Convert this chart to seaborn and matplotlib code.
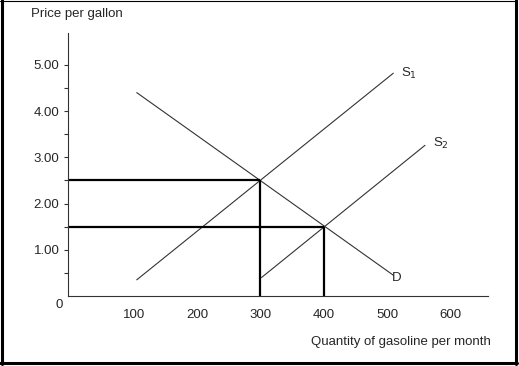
import numpy as np
import matplotlib
matplotlib.use("Agg")
import matplotlib.pyplot as plt
import seaborn as sns

# curve endpoints
demand_q = [105, 510]
demand_p = [4.40, 0.45]
supply1_q = [105, 510]
supply1_p = [0.35, 4.82]
supply2_q = [302, 560]
supply2_p = [0.40, 3.26]

# equilibria (old S1 and new S2)
eq_q = [300, 400]
eq_p = [2.50, 1.50]

y_major = [1, 2, 3, 4, 5]
y_minor = [0.5, 1.5, 2.5, 3.5, 4.5]
x_ticks = [100, 200, 300, 400, 500, 600]

sns.set_style("white")
plt.rcParams['font.family'] = ['Liberation Sans', 'DejaVu Sans']
fs = 9.5

W, H = 519, 366
fig = plt.figure(figsize=(W / 100, H / 100), dpi=100)
ax = fig.add_axes([67.7 / W, (H - 296) / H, 420 / W, 263 / H])

thin = dict(color="#333333", linewidth=0.8)
sns.lineplot(x=demand_q, y=demand_p, ax=ax, **thin)
sns.lineplot(x=supply1_q, y=supply1_p, ax=ax, **thin)
sns.lineplot(x=supply2_q, y=supply2_p, ax=ax, **thin)

x0 = -4
ax.hlines(eq_p, x0, eq_q, color="black", linewidth=1.6)
ax.vlines(eq_q, 0, eq_p, color="black", linewidth=1.6)

ax.set_xlim(x0, 659)
ax.set_ylim(0, 5.69)

ax.set_yticks(y_major)
ax.set_yticklabels([f"{v:.2f}" for v in y_major])
ax.set_yticks(y_minor, minor=True)
ax.tick_params(axis="y", which="both", direction="out", length=3, width=0.8,
               color="#333333", labelsize=fs, pad=3, left=True)
ax.set_xticks(x_ticks)
ax.set_xticklabels([str(v) for v in x_ticks])
ax.tick_params(axis="x", length=0, labelsize=fs, pad=9)

for s in ["top", "right"]:
    ax.spines[s].set_visible(False)
for s in ["left", "bottom"]:
    ax.spines[s].set_color("#333333")
    ax.spines[s].set_linewidth(0.8)

# labels placed like the original drawing
ax.text(-12, -0.2, "0", ha="right", va="center", fontsize=fs)
ax.text(supply1_q[1] + 12, supply1_p[1], "S$_1$", ha="left", va="center", fontsize=fs)
ax.text(supply2_q[1] + 13, supply2_p[1] + 0.05, "S$_2$", ha="left", va="center", fontsize=fs)
ax.text(demand_q[1] - 2, demand_p[1] - 0.05, "D", ha="left", va="center", fontsize=fs)

fig.text(31 / W, 1 - 14 / H, "Price per gallon", ha="left", va="center", fontsize=fs)
fig.text(491 / W, 1 - 342 / H, "Quantity of gasoline per month", ha="right",
         va="center", fontsize=fs)

# black frame around the picture
def frame(x1, y1, x2, y2, lw):
    fig.add_artist(plt.Line2D([x1 / W, x2 / W], [1 - y1 / H, 1 - y2 / H],
                              transform=fig.transFigure, color="black", lw=lw))

frame(1.5, 0, 1.5, 364, 2.2)
frame(515.5, 0, 515.5, 364, 2.2)
frame(0, 362.5, 517, 362.5, 2.2)
frame(0, 0.5, 517, 0.5, 0.8)

fig.savefig("out.png", dpi=100)
